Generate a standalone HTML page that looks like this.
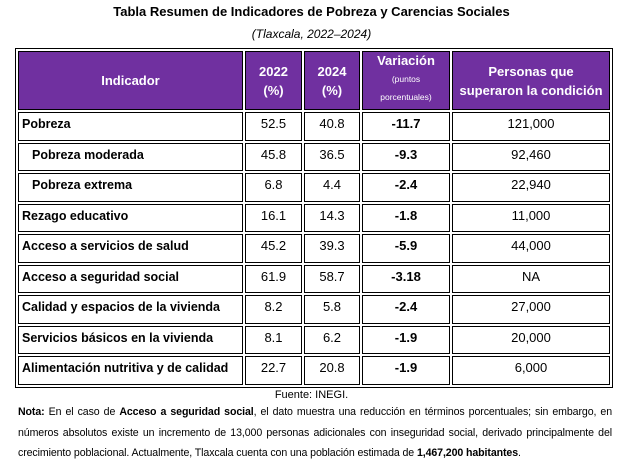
<!DOCTYPE html>
<html><head><meta charset="utf-8"><style>
body{margin:0;width:623px;height:465px;background:#fff;font-family:"Liberation Sans",sans-serif;position:relative;overflow:hidden;color:#000}
.t{position:absolute;left:0;width:623px;text-align:center}
table{position:absolute;left:15px;top:48px;width:598px;border:1px solid #000;border-collapse:separate;border-spacing:2px;font-size:13px;table-layout:fixed}
td{border:1px solid #000;padding:0 3px;height:26.5px;vertical-align:top;line-height:22px;text-align:center;white-space:nowrap;overflow:hidden}
td.l{text-align:left;font-weight:bold;font-size:12.5px}
td.in{padding-left:13px}
th{background:#7030a0;color:#fff;border:1px solid #000;font-size:13px;font-weight:bold;height:57px;line-height:19px;padding:0}
b{font-weight:bold}
.n{position:absolute;left:18px;width:594px;font-size:10.6px;line-height:20.5px;top:402px;text-align:justify;letter-spacing:-0.1px}
</style></head><body>
<div class="t" style="top:4px;font-size:13px;font-weight:bold">Tabla Resumen de Indicadores de Pobreza y Carencias Sociales</div>
<div class="t" style="top:27px;font-size:12px;font-style:italic">(Tlaxcala, 2022–2024)</div>
<table>
<colgroup><col style="width:225px"><col style="width:57px"><col style="width:56px"><col style="width:88px"><col style="width:158px"></colgroup>
<tr><th>Indicador</th><th>2022<br>(%)</th><th>2024<br>(%)</th><th style="vertical-align:top;line-height:17px">Variación<br><span style="font-size:8.5px;font-weight:normal;line-height:15px">(puntos<br>porcentuales)</span></th><th>Personas que<br>superaron la condición</th></tr>
<tr><td class="l">Pobreza</td><td>52.5</td><td>40.8</td><td><b>-11.7</b></td><td>121,000</td></tr>
<tr><td class="l in">Pobreza moderada</td><td>45.8</td><td>36.5</td><td><b>-9.3</b></td><td>92,460</td></tr>
<tr><td class="l in">Pobreza extrema</td><td>6.8</td><td>4.4</td><td><b>-2.4</b></td><td>22,940</td></tr>
<tr><td class="l">Rezago educativo</td><td>16.1</td><td>14.3</td><td><b>-1.8</b></td><td>11,000</td></tr>
<tr><td class="l">Acceso a servicios de salud</td><td>45.2</td><td>39.3</td><td><b>-5.9</b></td><td>44,000</td></tr>
<tr><td class="l">Acceso a seguridad social</td><td>61.9</td><td>58.7</td><td><b>-3.18</b></td><td>NA</td></tr>
<tr><td class="l">Calidad y espacios de la vivienda</td><td>8.2</td><td>5.8</td><td><b>-2.4</b></td><td>27,000</td></tr>
<tr><td class="l">Servicios básicos en la vivienda</td><td>8.1</td><td>6.2</td><td><b>-1.9</b></td><td>20,000</td></tr>
<tr><td class="l">Alimentación nutritiva y de calidad</td><td>22.7</td><td>20.8</td><td><b>-1.9</b></td><td>6,000</td></tr>
</table>
<div class="t" style="top:389px;font-size:11px">Fuente: INEGI.</div>
<div class="n"><b>Nota:</b> En el caso de <b>Acceso a seguridad social</b>, el dato muestra una reducción en términos porcentuales; sin embargo, en números absolutos existe un incremento de 13,000 personas adicionales con inseguridad social, derivado principalmente del crecimiento poblacional. Actualmente, Tlaxcala cuenta con una población estimada de <b>1,467,200 habitantes</b>.</div>
</body></html>
